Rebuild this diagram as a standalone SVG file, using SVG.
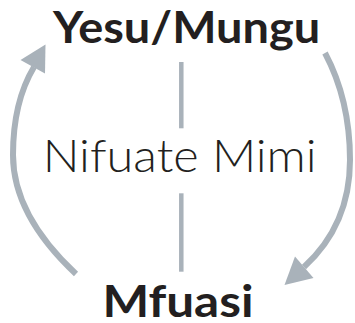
<svg xmlns="http://www.w3.org/2000/svg" width="355" height="323" viewBox="0 0 355 323">
<style>
.conn{fill:none;stroke:#a9b2ba;stroke-linecap:butt}
.arc{stroke-width:6}
.bar{stroke-width:4.5}
.head{fill:#a9b2ba}
.bold{font-family:Lato,"Open Sans","Liberation Sans",sans-serif;font-weight:700;fill:#231f20;text-anchor:middle}
.light{font-family:Lato,"Open Sans","Liberation Sans",sans-serif;font-weight:300;fill:#231f20;text-anchor:middle}
</style>
<rect width="355" height="323" fill="#ffffff"/>
<g id="connectors">
<path class="conn arc" d="M 76 274 Q 13 215 13 155 Q 13 102 34 67"/>
<polygon class="head" points="45.5,44.5 20.5,60 45,73.5"/>
<path class="conn arc" d="M 325 53 Q 350 100 350 160 Q 350 225 304 267"/>
<polygon class="head" points="284.5,285 295,256.5 313.5,278"/>
<line class="conn bar" x1="181.3" y1="62" x2="181.3" y2="128.3"/>
<line class="conn bar" x1="181.3" y1="193.3" x2="181.3" y2="271.7"/>
</g>
<g id="node-yesu">
<text class="bold" x="186.6" y="43.3" font-size="43" textLength="267" lengthAdjust="spacingAndGlyphs">Yesu/Mungu</text>
</g>
<g id="node-label">
<text class="light" x="179.7" y="171.7" font-size="45" textLength="274" lengthAdjust="spacingAndGlyphs">Nifuate Mimi</text>
</g>
<g id="node-mfuasi">
<text class="bold" x="178" y="316.7" font-size="44" textLength="151" lengthAdjust="spacingAndGlyphs">Mfuasi</text>
</g>
</svg>
